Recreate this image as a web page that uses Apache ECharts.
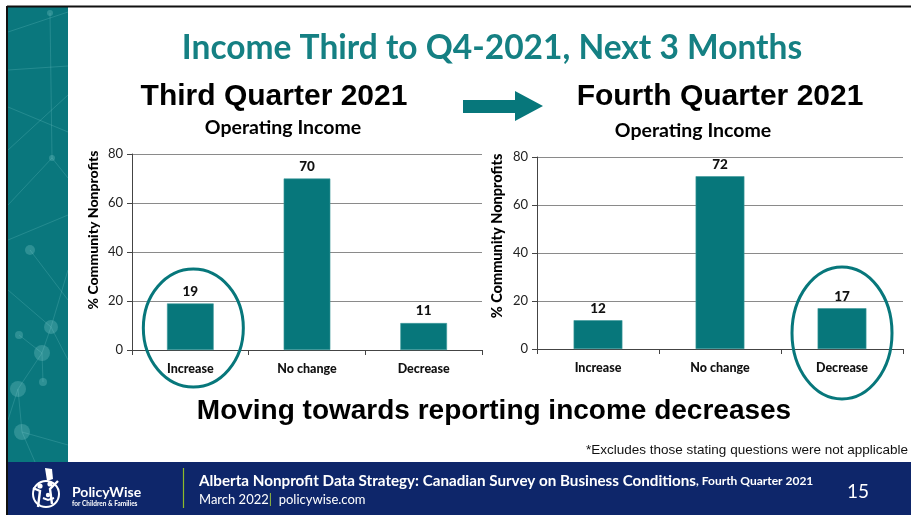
<!DOCTYPE html>
<html>
<head>
<meta charset="utf-8">
<title>Income Third to Q4-2021, Next 3 Months</title>
<script src="https://cdn.jsdelivr.net/npm/echarts@6/dist/echarts.min.js"></script>
<style>
  html, body { margin: 0; padding: 0; background: #ffffff; }
  #chart { width: 911px; height: 515px; }
</style>
</head>
<body>
<div id="chart"></div>
<script>
// Survey results: % of community nonprofits expecting each change in operating income
const categories = ['Increase', 'No change', 'Decrease'];
const q3Values = [19, 70, 11];
const q4Values = [12, 72, 17];
const yTicks = [0, 20, 40, 60, 80];

const TEAL = '#07777b';
const TITLE_TEAL = '#158083';
const NAVY = '#0e266a';
const CAL = 'Lato, "Open Sans", sans-serif';
const ARIAL = '"Liberation Sans", Arial, sans-serif';

const chart = echarts.init(document.getElementById('chart'), null, { renderer: 'canvas' });

function valueAxis(gridIndex) {
  return {
    type: 'value', gridIndex,
    min: yTicks[0], max: yTicks[yTicks.length - 1], interval: yTicks[1] - yTicks[0],
    axisLine: { show: true, lineStyle: { color: '#444', width: 1 } },
    axisTick: { show: true, length: 5, lineStyle: { color: '#444' } },
    axisLabel: { margin: 9, fontFamily: CAL, fontSize: 13, color: '#222' },
    splitLine: { show: true, lineStyle: { color: '#8a8a8a', width: 1 } }
  };
}
function categoryAxis(gridIndex) {
  return {
    type: 'category', gridIndex, data: categories,
    axisLine: { show: true, lineStyle: { color: '#444', width: 1.2 } },
    axisTick: { show: true, length: 5, lineStyle: { color: '#444' } },
    axisLabel: { margin: 12, fontFamily: CAL, fontWeight: 900, fontSize: 12.5, color: '#111' }
  };
}
function barSeries(index, values) {
  return {
    type: 'bar', xAxisIndex: index, yAxisIndex: index, data: values,
    barCategoryGap: '60%',
    itemStyle: { color: TEAL, borderColor: '#3e9a9c', borderWidth: 0.6 },
    label: { show: true, position: 'top', distance: 5, fontFamily: CAL, fontWeight: 900, fontSize: 13.5, color: '#111' },
    silent: true
  };
}

// Faint network pattern on the side strip
const nodes = [[50, 13, 3], [52, 158, 3], [51, 327, 7], [42, 353, 8], [19, 335, 4], [43, 382, 4], [18, 389, 8], [22, 432, 8], [30, 250, 5]];
const links = [
  [[8, 32], [68, 12]], [[8, 70], [68, 66]], [[8, 107], [68, 132]], [[50, 13], [52, 158]],
  [[52, 158], [8, 205]], [[52, 158], [68, 178]], [[8, 150], [68, 95]], [[8, 240], [68, 215]],
  [[30, 250], [68, 300]], [[8, 290], [51, 327]], [[51, 327], [42, 353]], [[42, 353], [19, 335]],
  [[42, 353], [43, 382]], [[42, 353], [18, 389]], [[18, 389], [22, 432]], [[51, 327], [68, 270]],
  [[22, 432], [68, 445]], [[18, 389], [8, 420]], [[51, 327], [68, 360]], [[22, 432], [35, 462]]
];
const pattern = [];
links.forEach((l, i) => pattern.push({
  type: 'line', id: 'pl' + i, silent: true,
  shape: { x1: l[0][0], y1: l[0][1], x2: l[1][0], y2: l[1][1] },
  style: { stroke: 'rgba(160,230,230,0.22)', lineWidth: 0.8 }
}));
nodes.forEach((n, i) => pattern.push({
  type: 'circle', id: 'pn' + i, silent: true,
  shape: { cx: n[0], cy: n[1], r: n[2] },
  style: { fill: 'rgba(150,220,220,0.25)' }
}));

const graphics = [
  // side strip and frame
  { type: 'rect', id: 'strip', shape: { x: 8, y: 7, width: 60, height: 456 }, style: { fill: '#0a777d' }, silent: true },
  ...pattern,
  { type: 'line', id: 'frameTop', shape: { x1: 7, y1: 6.5, x2: 911, y2: 6.5 }, style: { stroke: '#111', lineWidth: 2 }, silent: true },
  { type: 'line', id: 'frameLeft', shape: { x1: 7, y1: 6, x2: 7, y2: 515 }, style: { stroke: '#111', lineWidth: 2 }, silent: true },

  // headings
  { type: 'text', id: 'title', x: 492, y: 48, silent: true,
    style: { text: 'Income Third to Q4-2021, Next 3 Months', fill: TITLE_TEAL, font: 'bold 33.5px ' + CAL, align: 'center', verticalAlign: 'middle' } },
  { type: 'text', id: 'q3', x: 274, y: 97, silent: true,
    style: { text: 'Third Quarter 2021', fill: '#000', font: 'bold 30px ' + ARIAL, align: 'center', verticalAlign: 'middle' } },
  { type: 'text', id: 'q4', x: 720, y: 97, silent: true,
    style: { text: 'Fourth Quarter 2021', fill: '#000', font: 'bold 30px ' + ARIAL, align: 'center', verticalAlign: 'middle' } },
  { type: 'text', id: 'sub3', x: 283, y: 128, silent: true,
    style: { text: 'Operating Income', fill: '#000', font: 'bold 19.5px ' + CAL, align: 'center', verticalAlign: 'middle' } },
  { type: 'text', id: 'sub4', x: 693, y: 131, silent: true,
    style: { text: 'Operating Income', fill: '#000', font: 'bold 19.5px ' + CAL, align: 'center', verticalAlign: 'middle' } },
  { type: 'polygon', id: 'arrow', silent: true,
    shape: { points: [[463, 100], [515, 100], [515, 91], [543, 106], [515, 121], [515, 113], [463, 113]] },
    style: { fill: TEAL } },

  // axis names
  { type: 'text', id: 'yname3', x: 93, y: 230, rotation: Math.PI / 2, silent: true,
    style: { text: '% Community Nonprofits', fill: '#000', font: '900 14px ' + CAL, align: 'center', verticalAlign: 'middle' } },
  { type: 'text', id: 'yname4', x: 497, y: 236, rotation: Math.PI / 2, silent: true,
    style: { text: '% Community Nonprofits', fill: '#000', font: '900 14.5px ' + CAL, align: 'center', verticalAlign: 'middle' } },

  // message and footnote
  { type: 'text', id: 'msg', x: 494, y: 411, silent: true,
    style: { text: 'Moving towards reporting income decreases', fill: '#000', font: 'bold 28px ' + ARIAL, align: 'center', verticalAlign: 'middle' } },
  { type: 'text', id: 'note', x: 908, y: 450, silent: true,
    style: { text: '*Excludes those stating questions were not applicable', fill: '#111', font: '13.5px "Liberation Sans Narrow", "Arial Narrow", sans-serif', align: 'right', verticalAlign: 'middle' } },

  // footer band
  { type: 'rect', id: 'footer', shape: { x: 8, y: 462, width: 903, height: 53 }, style: { fill: NAVY }, silent: true },
  { type: 'line', id: 'footSep', shape: { x1: 183.5, y1: 468, x2: 183.5, y2: 508 }, style: { stroke: '#8dbb2a', lineWidth: 1.2 }, silent: true },
  { type: 'circle', id: 'logoRing', shape: { cx: 46, cy: 494, r: 13 }, style: { fill: 'none', stroke: '#fff', lineWidth: 2 }, silent: true },
  { type: 'polygon', id: 'logoFlag', shape: { points: [[45, 468], [52, 469], [53, 479], [47, 481]] }, style: { fill: '#fff' }, silent: true },
  { type: 'circle', id: 'logoHead1', shape: { cx: 40, cy: 486, r: 2.6 }, style: { fill: '#fff' }, silent: true },
  { type: 'circle', id: 'logoHead2', shape: { cx: 50, cy: 484, r: 2.6 }, style: { fill: '#fff' }, silent: true },
  { type: 'circle', id: 'logoHead3', shape: { cx: 48, cy: 495, r: 2.2 }, style: { fill: '#fff' }, silent: true },
  { type: 'polyline', id: 'logoBody1', shape: { points: [[33, 488], [40, 491], [38, 507]] }, style: { stroke: '#fff', lineWidth: 2.4, fill: 'none' }, silent: true },
  { type: 'polyline', id: 'logoBody2', shape: { points: [[58, 481], [50, 489], [52, 504]] }, style: { stroke: '#fff', lineWidth: 2.4, fill: 'none' }, silent: true },
  { type: 'polyline', id: 'logoBody3', shape: { points: [[43, 498], [48, 500], [54, 498]] }, style: { stroke: '#fff', lineWidth: 2, fill: 'none' }, silent: true },
  { type: 'text', id: 'logoName', x: 72, y: 492, silent: true,
    style: { text: 'PolicyWise', fill: '#fff', font: 'bold 14px ' + CAL, align: 'left', verticalAlign: 'middle' } },
  { type: 'text', id: 'logoTag', x: 72, y: 504, silent: true,
    style: { text: 'for Children & Families', fill: '#fff', font: 'bold 6.5px ' + CAL, align: 'left', verticalAlign: 'middle' } },
  { type: 'text', id: 'footLine1', x: 199, y: 481, silent: true,
    style: {
      text: '{a|Alberta Nonprofit Data Strategy: Canadian Survey on Business Conditions}{b|, Fourth Quarter 2021}',
      align: 'left', verticalAlign: 'middle',
      rich: {
        a: { fill: '#fff', font: 'bold 15.2px ' + CAL },
        b: { fill: '#fff', font: 'bold 12px ' + CAL, verticalAlign: 'bottom', padding: [0, 0, 1, 0] }
      }
    } },
  { type: 'text', id: 'footLine2', x: 199, y: 500, silent: true,
    style: {
      text: '{a|March 2022}{g||}{a|  policywise.com}',
      align: 'left', verticalAlign: 'middle',
      rich: {
        a: { fill: '#fff', font: '13px ' + CAL },
        g: { fill: '#9cc33a', font: '13px ' + CAL }
      }
    } },
  { type: 'text', id: 'page', x: 858, y: 492, silent: true,
    style: { text: '15', fill: '#fff', font: '19px ' + CAL, align: 'center', verticalAlign: 'middle' } }
];

chart.setOption({
  animation: false,
  grid: [
    { left: 132, top: 154, width: 350, height: 196 },
    { left: 537, top: 157, width: 366, height: 192 }
  ],
  xAxis: [categoryAxis(0), categoryAxis(1)],
  yAxis: [valueAxis(0), valueAxis(1)],
  series: [barSeries(0, q3Values), barSeries(1, q4Values)],
  graphic: graphics
});

// Highlight rings around the category being called out in each panel
const highlights = [
  { grid: 0, category: 'Increase', value: 9, dx: 3, rx: 50, ry: 59 },
  { grid: 1, category: 'Decrease', value: 6.7, dx: 0, rx: 50, ry: 66 }
];
chart.setOption({
  graphic: highlights.map((h, i) => {
    const p = chart.convertToPixel({ gridIndex: h.grid }, [h.category, h.value]);
    return {
      type: 'ellipse', id: 'ring' + i, silent: true, z: 10,
      shape: { cx: p[0] + h.dx, cy: p[1], rx: h.rx, ry: h.ry },
      style: { fill: 'none', stroke: TEAL, lineWidth: 3 }
    };
  })
});
</script>
</body>
</html>
